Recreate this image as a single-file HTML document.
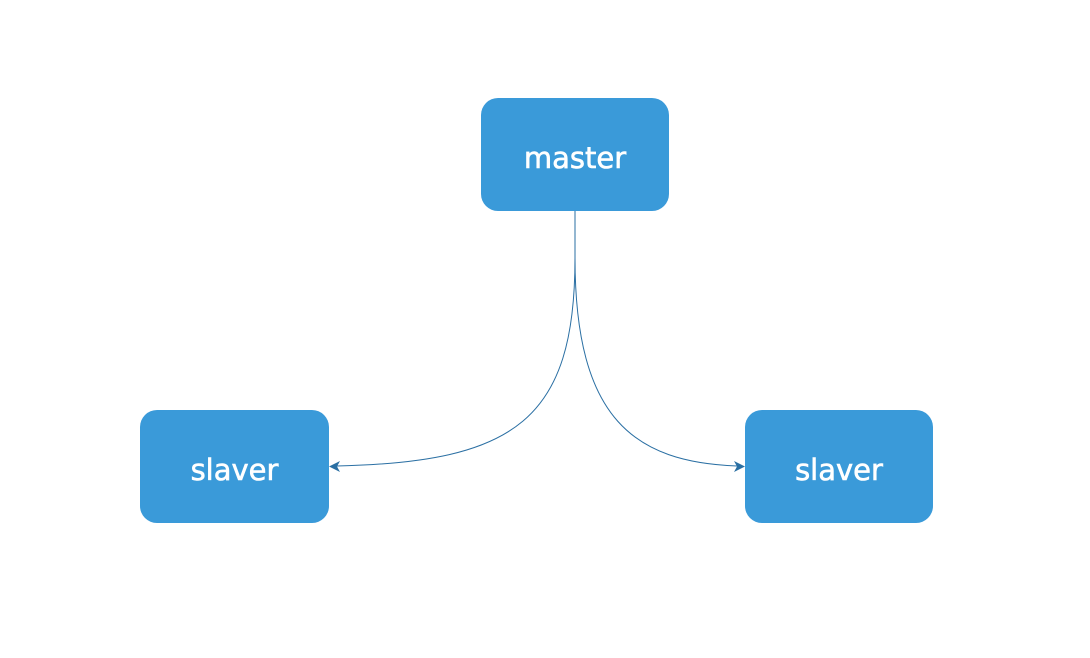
<!DOCTYPE html>
<html><head><style>
html,body{margin:0;padding:0;background:#fff;}
.n{position:absolute;background:#3a9ad9;border-radius:17px;color:#fff;font-family:"DejaVu Sans","Liberation Sans",sans-serif;font-size:29px;display:flex;align-items:center;justify-content:center;-webkit-text-stroke:0.6px #fff;}
.n span{position:relative;top:3px;}
</style></head><body>
<div style="position:relative;width:1090px;height:658px;overflow:hidden">
<svg width="1090" height="658" style="position:absolute;left:0;top:0">
<g fill="none" stroke="#2a6fa3" stroke-width="1">
<path d="M575,211 L575,258 C575,420 515,462 337,466"/>
<path d="M575,258 C575,420 635,462 737,466"/>
</g>
<path d="M329,466.5 L340,461 L337,466.5 L340,472 Z" fill="#2a6fa3"/>
<path d="M745,466.5 L734,461 L737,466.5 L734,472 Z" fill="#2a6fa3"/>
</svg>
<div class="n" style="left:481px;top:98px;width:188px;height:113px"><span>master</span></div>
<div class="n" style="left:140px;top:410px;width:189px;height:113px"><span>slaver</span></div>
<div class="n" style="left:745px;top:410px;width:188px;height:113px"><span>slaver</span></div>
</div>
</body></html>
